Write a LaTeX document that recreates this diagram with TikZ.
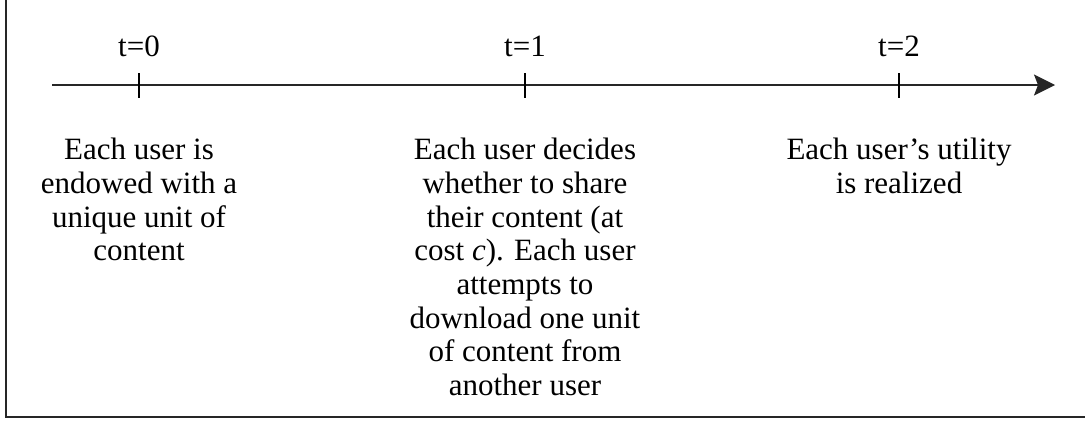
\documentclass[tikz,border=0pt]{standalone}
\usepackage{fontspec}
\setmainfont{Liberation Serif}
\usetikzlibrary{positioning,arrows.meta}
\tikzset{
  event/.style={align=center, font=\fontsize{31}{33.7}\selectfont, inner sep=0pt},
  stamp/.style={font=\fontsize{31}{33.7}\selectfont, inner sep=0pt},
  tick/.style={line width=1.5pt},
}
\begin{document}
\begin{tikzpicture}[x=1pt,y=-1pt]
    \useasboundingbox (0,0) rectangle (1085,421);
    \draw[line width=1.8pt, black!85] (6,0) -- (6,417) -- (1085,417);
    % time axis
    \coordinate (start) at (52,85);
    \coordinate (end) at (1055,85);
    \coordinate (t0) at (139,85);
    \coordinate (t1) at (525,85);
    \coordinate (t2) at (899,85);
    \draw[line width=1.5pt, black!85, -{Stealth[length=21pt,width=21pt,inset=4pt]}] (start) -- (end);
    \draw[tick] (t0) ++(0,-12) -- ++(0,25);
    \draw[tick] (t1) ++(0,-12) -- ++(0,25);
    \draw[tick] (t2) ++(0,-12) -- ++(0,25);
    \node[stamp, above=28pt of t0] (l0) {t=0};
    \node[stamp, above=28pt of t1] (l1) {t=1};
    \node[stamp, above=28pt of t2] (l2) {t=2};
    % what happens at each step
    \node[event, below=53pt of t0] (e0) {Each user is\\endowed with a\\unique unit of\\content};
    \node[event, below=53pt of t1] (e1) {Each user decides\\whether to share\\their content (at\\cost \textit{c}). Each user\\attempts to\\download one unit\\of content from\\another user};
    \node[event, below=53pt of t2] (e2) {Each user's utility\\is realized};
\end{tikzpicture}
\end{document}
